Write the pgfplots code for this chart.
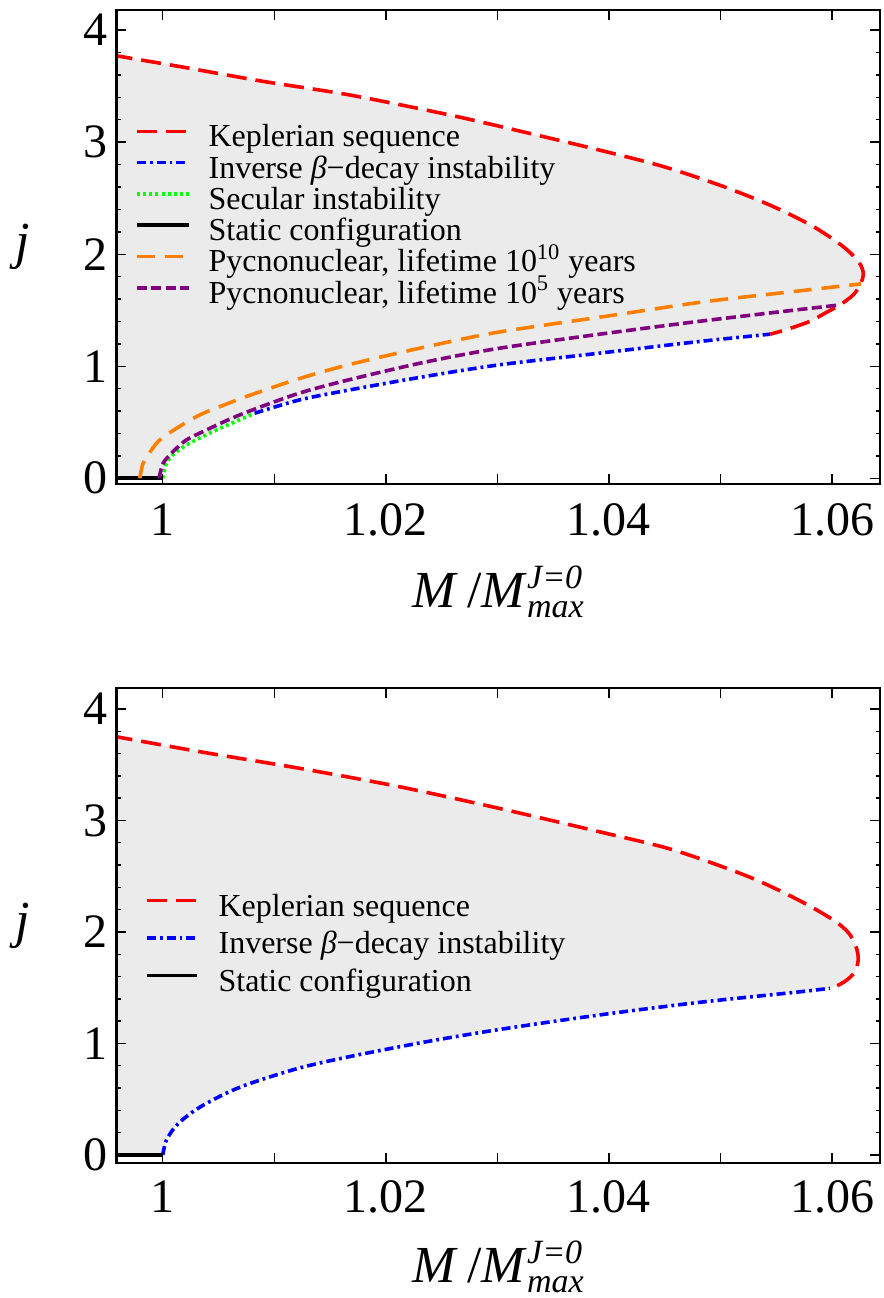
\documentclass[border=0pt]{standalone}
\usepackage{fontspec}
\setmainfont{Liberation Serif}
\usepackage{pgfplots}
\usepackage{pgfplotstable}
\pgfplotsset{compat=1.18}

\definecolor{kred}{RGB}{255,0,0}
\definecolor{kblue}{RGB}{0,0,255}
\definecolor{kgreen}{RGB}{0,255,0}
\definecolor{korange}{RGB}{255,128,0}
\definecolor{kpurple}{RGB}{128,0,128}
\definecolor{fillgray}{RGB}{235,235,235}

% ---------- top panel ----------
\pgfplotstableread{
x y
0.9955 3.777
1.00152 3.675
1.00912 3.541
1.01673 3.422
1.02567 3.244
1.03283 3.080
1.03909 2.931
1.04490 2.782
1.05027 2.604
1.05474 2.425
1.05832 2.247
1.06100 2.068
1.06240 1.930
1.06280 1.830
1.06255 1.732
1.06190 1.637
1.06070 1.547
1.05930 1.470
1.05800 1.400
1.05600 1.330
1.05445 1.286
}\kepA

\pgfplotstableread{
x y
1.00000 0.000
1.00033 0.134
1.00107 0.223
1.00242 0.313
1.00420 0.402
1.00584 0.476
1.00823 0.580
1.01225 0.699
1.01673 0.788
1.02343 0.907
1.03014 1.012
1.03909 1.116
1.04803 1.220
1.05445 1.286
}\lowA

\pgfplotstableread{
x y
1.00000 0.000
1.00033 0.134
1.00107 0.223
1.00242 0.313
1.00420 0.402
1.00584 0.476
1.00823 0.580
}\greenA

\pgfplotstableread{
x y
1.00823 0.580
1.01225 0.699
1.01673 0.788
1.02343 0.907
1.03014 1.012
1.03909 1.116
1.04803 1.220
1.05445 1.286
}\blueA

\pgfplotstableread{
x y
0.9950 0.000
1.00000 0.000
}\staticA

\pgfplotstableread{
x y
0.99794 0.000
0.99824 0.134
0.99899 0.253
0.99973 0.342
1.00123 0.446
1.00331 0.565
1.00539 0.650
1.00778 0.740
1.01225 0.890
1.01673 1.015
1.02343 1.170
1.03014 1.305
1.04000 1.450
1.04850 1.575
1.05700 1.672
1.06260 1.735
}\orangeA

\pgfplotstableread{
x y
0.99967 0.000
1.00003 0.134
1.00092 0.238
1.00212 0.342
1.00391 0.431
1.00584 0.520
1.00778 0.600
1.01225 0.760
1.01673 0.880
1.02343 1.035
1.03014 1.160
1.03909 1.285
1.04803 1.400
1.05698 1.505
1.06070 1.547
}\purpleA

% ---------- bottom panel ----------
\pgfplotstableread{
x y
0.9955 3.757
1.00331 3.617
1.01225 3.468
1.02120 3.303
1.03014 3.109
1.03909 2.900
1.04580 2.735
1.05251 2.496
1.05698 2.287
1.06011 2.108
1.06150 1.990
1.06215 1.868
1.06235 1.760
1.06210 1.650
1.06140 1.575
1.06060 1.525
1.05981 1.495
}\kepB

\pgfplotstableread{
x y
1.00000 0.000
1.00030 0.128
1.00107 0.248
1.00200 0.335
1.00331 0.428
1.00550 0.545
1.00778 0.640
1.01225 0.780
1.01673 0.882
1.02343 1.012
1.03014 1.125
1.03909 1.255
1.04803 1.368
1.05698 1.462
1.05981 1.495
}\lowB

\newcommand{\xlab}{\textit{M}\,/\textit{M}\makebox[0pt][l]{\raisebox{9.5bp}{\fontsize{17bp}{17bp}\selectfont\textit{J=0}}}\raisebox{-5bp}{\fontsize{17bp}{17bp}\selectfont\textit{max}}}

\pgfplotsset{
  panel/.style={
    scale only axis, width=381.75bp,
    xmin=0.99585, xmax=1.0643,
    xtick={1,1.01,1.02,1.03,1.04,1.05,1.06},
    xticklabels={1,,1.02,,1.04,,1.06},
    ytick={0,1,2,3,4}, minor y tick num=4,
    tick align=inside, major tick length=5bp, minor tick length=2.2bp,
    tick style={black, line width=0.7bp},
    axis line style={black, line width=1.1bp},
    axis on top,
    /pgf/number format/assume math mode=true,
    ticklabel style={font=\fontsize{24bp}{24bp}\selectfont, inner sep=0pt},
    yticklabel style={anchor=east, xshift=-4.25bp},
    xticklabel style={anchor=north},
    every axis y label/.style={at={(rel axis cs:0,0.5)}, anchor=center, xshift=-47bp, font=\fontsize{26bp}{26bp}\selectfont},
    every axis x label/.style={at={(rel axis cs:0.5,0)}, anchor=base, inner sep=0pt, font=\fontsize{26bp}{26bp}\selectfont},
    xlabel={\xlab},
    ylabel={\textit{j}},
    legend cell align=left,
  },
  kep/.style={kred, line width=1.8bp, dash pattern=on 10bp off 4.5bp, smooth},
  blu/.style={kblue, line width=1.8bp, dash pattern=on 4.5bp off 2bp on 1.4bp off 2bp, smooth},
  grn/.style={kgreen, line width=1.8bp, dash pattern=on 1.5bp off 1.6bp, smooth},
  stat/.style={black, line width=1.8bp},
  org/.style={korange, line width=1.8bp, dash pattern=on 9bp off 5bp, smooth},
  pur/.style={kpurple, line width=1.8bp, dash pattern=on 5bp off 2.2bp, smooth},
}

\begin{document}
\begin{tikzpicture}
% ================= TOP =================
\begin{axis}[panel, at={(0,0)}, anchor=north west,
  height=237.15bp, ymin=-0.054, ymax=4.18,
  xticklabel style={yshift=-9.5bp},
  every axis x label/.append style={yshift=-61.5bp},
  legend image code/.code={\draw[#1] (0bp,5bp) -- (26bp,5bp);},
  legend style={at={(0,1)}, anchor=north west, xshift=9.25bp, yshift=-57.85bp,
    draw=none, fill=none, inner sep=0pt, outer sep=0pt, row sep=0pt,
    font=\fontsize{16bp}{16bp}\selectfont,
    nodes={inner sep=0pt, text height=10.5bp, text depth=5.15bp},
    /tikz/every odd column/.append style={column sep=9bp}},
]
\addplot[fill=fillgray, draw=none, forget plot, smooth] table[x=x,y=y] {\kepA}
  -- (axis cs:1.05445,0) -- (axis cs:0.9955,0) -- cycle;
\addplot[fill=white, draw=none, forget plot, smooth] table[x=x,y=y] {\lowA}
  -- (axis cs:1.0565,1.286) -- (axis cs:1.0565,-0.03) -- (axis cs:1.0,-0.03) -- cycle;
\addplot[kep] table[x=x,y=y] {\kepA};
\addlegendentry{Keplerian sequence}
\addplot[blu] table[x=x,y=y] {\blueA};
\addlegendentry{Inverse \textit{β}−decay instability}
\addplot[grn] table[x=x,y=y] {\greenA};
\addlegendentry{Secular instability}
\addplot[stat] table[x=x,y=y] {\staticA};
\addlegendentry{Static configuration}
\addplot[org] table[x=x,y=y] {\orangeA};
\addlegendentry{Pycnonuclear, lifetime 10\textsuperscript{10} years}
\addplot[pur] table[x=x,y=y] {\purpleA};
\addlegendentry{Pycnonuclear, lifetime 10\textsuperscript{5} years}
\end{axis}

% ================= BOTTOM =================
\begin{axis}[panel, at={(0,-339bp)}, anchor=north west,
  height=237.5bp, ymin=-0.072, ymax=4.188,
  xticklabel style={yshift=-8.5bp},
  every axis x label/.append style={yshift=-59.5bp},
  legend image code/.code={\draw[#1] (0bp,5bp) -- (25bp,5bp);},
  legend style={at={(0,1)}, anchor=north west, xshift=14.25bp, yshift=-103.5bp,
    draw=none, fill=none, inner sep=0pt, outer sep=0pt, row sep=3.1bp,
    font=\fontsize{16bp}{16bp}\selectfont,
    nodes={inner sep=0pt, text height=10.5bp, text depth=5.15bp},
    /tikz/every odd column/.append style={column sep=10bp}},
]
\addplot[fill=fillgray, draw=none, forget plot, smooth] table[x=x,y=y] {\kepB}
  -- (axis cs:1.05981,0) -- (axis cs:0.9955,0) -- cycle;
\addplot[fill=white, draw=none, forget plot, smooth] table[x=x,y=y] {\lowB}
  -- (axis cs:1.0615,1.495) -- (axis cs:1.0615,-0.03) -- (axis cs:1.0,-0.03) -- cycle;
\addplot[kep] table[x=x,y=y] {\kepB};
\addlegendentry{Keplerian sequence}
\addplot[blu] table[x=x,y=y] {\lowB};
\addlegendentry{Inverse \textit{β}−decay instability}
\addplot[stat] table[x=x,y=y] {\staticA};
\addlegendentry{Static configuration}
\end{axis}

\pgfresetboundingbox
\path[use as bounding box] (-58.25bp,5bp) rectangle (383.75bp,-644bp);
\end{tikzpicture}
\end{document}
